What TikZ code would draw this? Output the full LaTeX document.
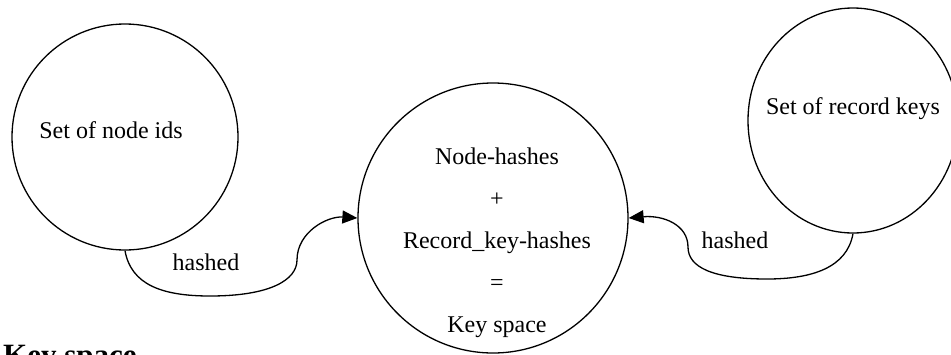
\documentclass[tikz,border=0pt]{standalone}
\usepackage{fontspec}
\setmainfont{Liberation Serif}
\usetikzlibrary{positioning,arrows.meta,shapes.geometric}

\tikzset{
  setnode/.style={draw, circle, line width=1.3pt, inner sep=0pt, minimum size=#1},
  hashline/.style={line width=1.3pt, -{Triangle[length=15pt,width=13pt]}},
}

\begin{document}
\begin{tikzpicture}[x=1pt, y=-1pt, font=\fontsize{24}{29}\selectfont]
    \useasboundingbox (0,0) rectangle (951,354);
    \clip (0,0) rectangle (951,354);

    % sets
    \node [setnode=226pt, label={[xshift=-14pt, yshift=7pt]center:Set of node ids}] (ids) at (125,137) {};
    \node [setnode=270pt, label={[align=center, font=\fontsize{24}{42}\selectfont, xshift=4pt, yshift=-25pt]center:Node-hashes\\+\\Record\_key-hashes\\=\\Key space}] (space) at (493,218) {};
    \node [draw, ellipse, line width=1.3pt, inner sep=0pt, minimum width=210pt, minimum height=225pt, label={[yshift=12pt]center:Set of record keys}] (keys) at (853,120.5) {};

    % bends
    \coordinate (llow) at (210,296);
    \coordinate (lbend) at (297,260);
    \coordinate (rlow) at (767,279);
    \coordinate (rbend) at (688,247);

    \draw [hashline] (ids.south) .. controls +(6,34) and +(-48,0) .. (llow)
        .. controls +(60,0) and +(0,20) .. (lbend)
        .. controls +(0,-28) and +(-30,-2) .. (space.west);
    \draw [hashline] (keys.south) .. controls +(-6,34) and +(45,0) .. (rlow)
        .. controls +(-55,0) and +(0,20) .. (rbend)
        .. controls +(0,-22) and +(35,-3) .. (space.east);

    \node (lhash) at (206,262) {hashed};
    \node (rhash) at (735,240) {hashed};

    \node [anchor=base west, inner sep=0pt, font=\fontsize{31}{36}\selectfont\bfseries] (title) at (3,365) {Key space};
\end{tikzpicture}
\end{document}
